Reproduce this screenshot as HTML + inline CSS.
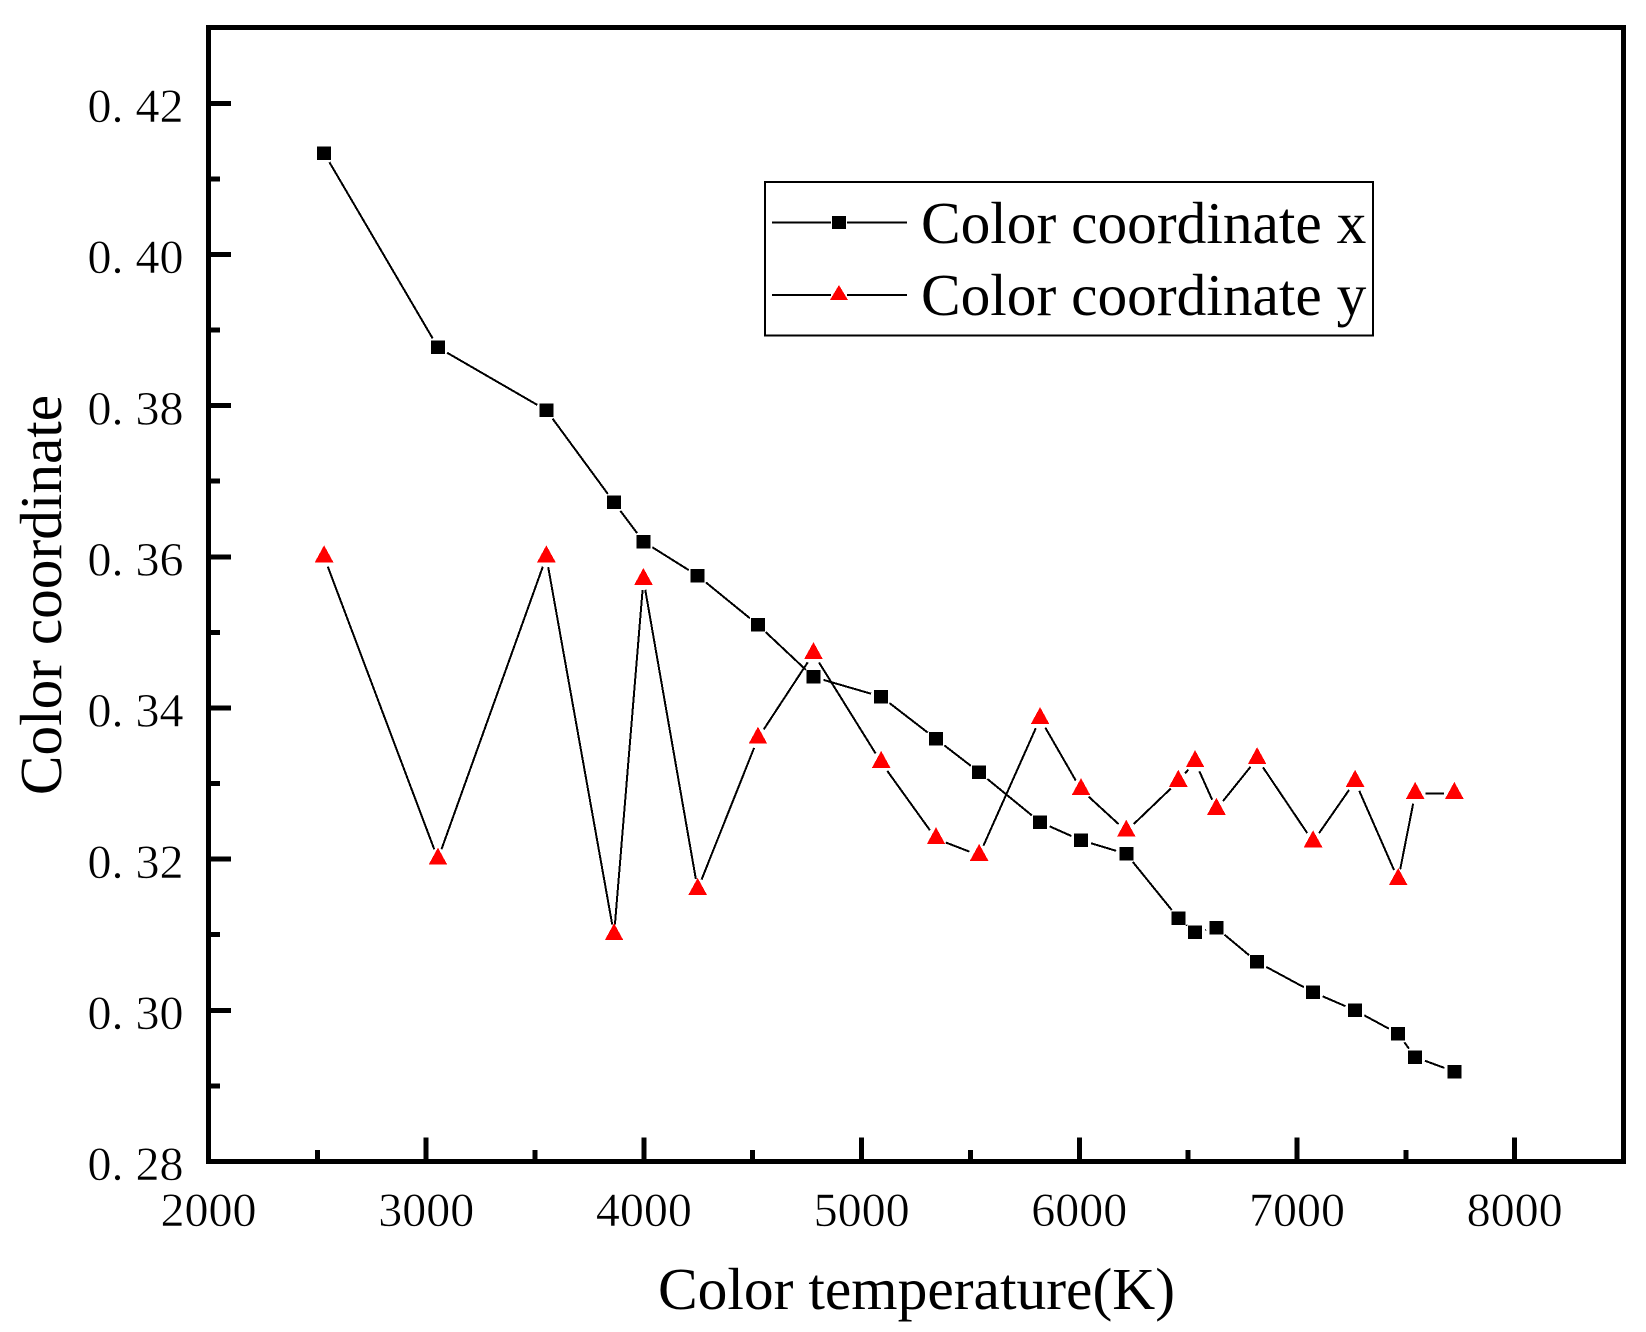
<!DOCTYPE html>
<html lang="en">
<head>
<meta charset="utf-8">
<title>Color coordinate vs color temperature</title>
<style>
  html, body { margin: 0; padding: 0; background: #fff; }
  svg { display: block; }
  text { font-family: "Liberation Serif", serif; fill: #000; }
</style>
</head>
<body>
<svg id="chart" xmlns="http://www.w3.org/2000/svg" width="1646" height="1332" viewBox="0 0 1646 1332">
  <rect x="0" y="0" width="1646" height="1332" fill="#fff"/>
  <g id="ticks"></g>
  <g id="series"></g>
  <rect x="208.5" y="27.5" width="1415" height="1134" fill="none" stroke="#000" stroke-width="5"/>
  <text x="916.5" y="1309" font-size="59.5" text-anchor="middle">Color temperature(K)</text>
  <text transform="translate(61 595) rotate(-90)" font-size="59.3" text-anchor="middle">Color coordinate</text>
  <g>
    <rect x="765" y="182" width="608" height="153.5" fill="#fff" stroke="#000" stroke-width="2"/>
    <g>
      <line x1="772" y1="222.5" x2="831" y2="222.5" stroke="#000" stroke-width="2" shape-rendering="crispEdges"/>
      <line x1="847" y1="222.5" x2="907" y2="222.5" stroke="#000" stroke-width="2" shape-rendering="crispEdges"/>
      <rect x="832" y="216" width="14" height="13" fill="#000"/>
      <text x="921" y="243" font-size="59.4">Color coordinate x</text>
    </g>
    <g>
      <line x1="772" y1="295" x2="831" y2="295" stroke="#000" stroke-width="2" shape-rendering="crispEdges"/>
      <line x1="847" y1="295" x2="907" y2="295" stroke="#000" stroke-width="2" shape-rendering="crispEdges"/>
      <polygon points="839,285 848,300 830,300" fill="#f00" shape-rendering="crispEdges"/>
      <text x="921" y="315" font-size="59.4">Color coordinate y</text>
    </g>
  </g>
</svg>
<script>
const temperatures = [2531, 3054, 3552, 3863, 3998, 4247, 4524, 4779, 5090, 5342, 5540, 5820, 6008, 6216, 6455, 6532, 6630, 6817, 7074, 7267, 7465, 7543, 7723];
const colorX = [0.4134, 0.3877, 0.3794, 0.3672, 0.3620, 0.3575, 0.3510, 0.3441, 0.3415, 0.3359, 0.3315, 0.3249, 0.3225, 0.3207, 0.3122, 0.3103, 0.3109, 0.3064, 0.3024, 0.3000, 0.2969, 0.2938, 0.2919];
const colorY = [0.3600, 0.3200, 0.3600, 0.3100, 0.3570, 0.3160, 0.3360, 0.3472, 0.3328, 0.3227, 0.3205, 0.3386, 0.3292, 0.3237, 0.3303, 0.3329, 0.3266, 0.3333, 0.3223, 0.3303, 0.3173, 0.3287, 0.3287];
const xMajorTicks = [2000, 3000, 4000, 5000, 6000, 7000, 8000];
const xMinorTicks = [2500, 3500, 4500, 5500, 6500, 7500];
const xTickLabels = ['2000', '3000', '4000', '5000', '6000', '7000', '8000'];
const yMajorTicks = [0.28, 0.30, 0.32, 0.34, 0.36, 0.38, 0.40, 0.42];
const yMinorTicks = [0.29, 0.31, 0.33, 0.35, 0.37, 0.39, 0.41];
const yTickLabels = ['0. 28', '0. 30', '0. 32', '0. 34', '0. 36', '0. 38', '0. 40', '0. 42'];

const SVGNS = 'http://www.w3.org/2000/svg';
const xMin = 2000, xMax = 8500, yMin = 0.28, yMax = 0.43;
const plotLeft = 208.5, plotRight = 1623.5, plotBottom = 1161.5, plotTop = 27.7;
function xScale(v) { return plotLeft + (v - xMin) / (xMax - xMin) * (plotRight - plotLeft); }
function yScale(v) { return plotBottom - (v - yMin) / (yMax - yMin) * (plotBottom - plotTop); }

function make(tag, attrs, parent) {
  const el = document.createElementNS(SVGNS, tag);
  for (const k in attrs) el.setAttribute(k, attrs[k]);
  parent.appendChild(el);
  return el;
}

const tickGroup = document.getElementById('ticks');
const seriesGroup = document.getElementById('series');

xMajorTicks.forEach(function (t, i) {
  const x = xScale(t);
  const tick = make('line', { x1: x, x2: x, y1: 1137.5, y2: 1160, stroke: '#000', 'stroke-width': 5, 'shape-rendering': 'crispEdges' }, tickGroup);
  
  
  const label = make('text', { x: x, y: 1226, 'font-size': 48, 'text-anchor': 'middle', stroke: '#fff', 'stroke-width': 0.5 }, tickGroup);
  label.textContent = xTickLabels[i];
  
  
});
xMinorTicks.forEach(function (t) {
  const x = xScale(t);
  const tick = make('line', { x1: x, x2: x, y1: 1150, y2: 1160, stroke: '#000', 'stroke-width': 5, 'shape-rendering': 'crispEdges' }, tickGroup);
  
  
});
yMajorTicks.forEach(function (t, i) {
  const y = yScale(t);
  const tick = make('line', { x1: 210, x2: 231, y1: y, y2: y, stroke: '#000', 'stroke-width': 5, 'shape-rendering': 'crispEdges' }, tickGroup);
  
  
  const label = make('text', { x: 183.5, y: y + 18.7, 'font-size': 48, 'text-anchor': 'end', stroke: '#fff', 'stroke-width': 0.5 }, tickGroup);
  label.textContent = yTickLabels[i];
  
  
});
yMinorTicks.forEach(function (t) {
  const y = yScale(t);
  const tick = make('line', { x1: 210, x2: 220, y1: y, y2: y, stroke: '#000', 'stroke-width': 5, 'shape-rendering': 'crispEdges' }, tickGroup);
  
  
});

const markerGap = 10.5;
function drawSegments(values, groupName) {
  const g = make('g', {}, seriesGroup);
  
  
  for (let i = 0; i < values.length - 1; i++) {
    const x1 = xScale(temperatures[i]), y1 = yScale(values[i]);
    const x2 = xScale(temperatures[i + 1]), y2 = yScale(values[i + 1]);
    const d = Math.hypot(x2 - x1, y2 - y1);
    if (d <= markerGap * 2) continue;
    const ux = (x2 - x1) / d, uy = (y2 - y1) / d;
    const seg = make('line', {
      x1: x1 + ux * markerGap, y1: y1 + uy * markerGap,
      x2: x2 - ux * markerGap, y2: y2 - uy * markerGap,
      stroke: '#000', 'stroke-width': 2, 'shape-rendering': 'crispEdges'
    }, g);
    
    
  }
}

drawSegments(colorX, 'series-x-line');
drawSegments(colorY, 'series-y-line');

colorX.forEach(function (v, i) {
  const cx = xScale(temperatures[i]), cy = yScale(v);
  const m = make('rect', { x: cx - 7, y: cy - 6.75, width: 14, height: 13.5, fill: '#000', 'shape-rendering': 'crispEdges' }, seriesGroup);
  
  
});
colorY.forEach(function (v, i) {
  const cx = xScale(temperatures[i]), cy = yScale(v);
  const pts = cx + ',' + (cy - 11.5) + ' ' + (cx + 9.3) + ',' + (cy + 5.5) + ' ' + (cx - 9.3) + ',' + (cy + 5.5);
  const m = make('polygon', { points: pts, fill: '#f00', 'shape-rendering': 'crispEdges' }, seriesGroup);
  
  
});
</script>
</body>
</html>
